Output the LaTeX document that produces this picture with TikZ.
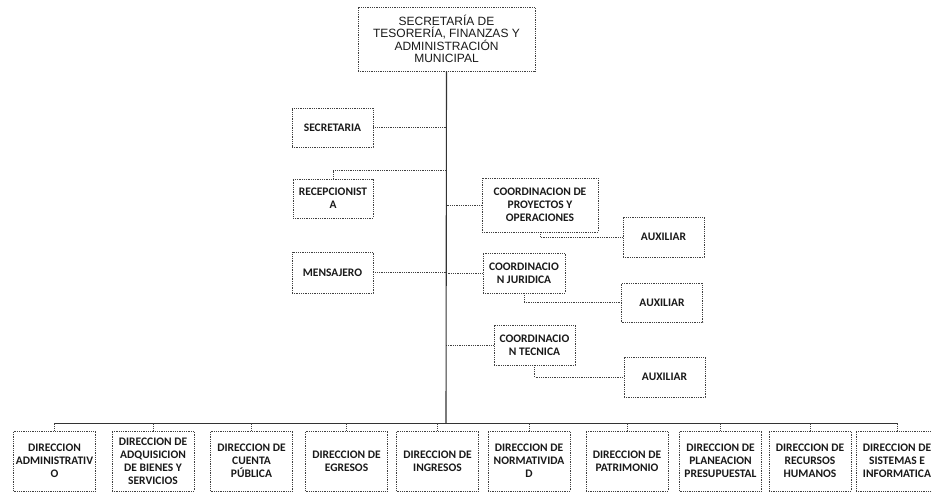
\documentclass[tikz,border=0pt]{standalone}
\usepackage{fontspec}
\setmainfont{Carlito}
\newfontfamily\arialfont{Liberation Sans}
\usepackage{tikz}

\begin{document}
\begin{tikzpicture}[x=1pt, y=-1pt]
    \useasboundingbox (0,0) rectangle (932,493);

    % --- DEFINE STYLES ---
    % Style for every box of the chart
    \tikzstyle{unit} = [draw=black!75, densely dotted, line width=0.8pt, align=center,
        inner sep=0pt, text=black!90, font=\bfseries\fontsize{11.5}{13}\selectfont]
    % Style for the head box
    \tikzstyle{head} = [unit, font=\arialfont\fontsize{12}{12.4}\selectfont,
        minimum width=177pt, minimum height=64pt]
    % Style for the direcciones along the bottom
    \tikzstyle{dir} = [unit, minimum width=82pt, minimum height=60pt]
    % Style for the connectors
    \tikzstyle{link} = [draw=black!75, densely dotted, line width=0.8pt]
    \tikzstyle{trunk} = [draw=black!80, line width=1.1pt]

    % --- HEAD AND STAFF ---
    \node[head] (top) at (446.5,39) {SECRETARÍA DE\\TESORERÍA, FINANZAS Y\\ADMINISTRACIÓN\\MUNICIPAL};

    \node[unit, minimum width=81pt, minimum height=39pt] (secre) at (332.5,127.5) {SECRETARIA};
    \node[unit, minimum width=80pt, minimum height=39pt] (recep) at (333,198.5) {RECEPCIONIST\\A};
    \node[unit, minimum width=81pt, minimum height=41pt] (mensa) at (332.5,272.5) {MENSAJERO};

    % --- COORDINACIONES WITH THEIR AUXILIARES ---
    \node[unit, minimum width=116pt, minimum height=54pt] (coordP) at (540,205) {COORDINACION DE\\PROYECTOS Y\\OPERACIONES};
    \node[unit, minimum width=82pt, minimum height=40pt] (coordJ) at (524,273) {COORDINACIO\\N JURIDICA};
    \node[unit, minimum width=81pt, minimum height=40pt] (coordT) at (534.5,345) {COORDINACIO\\N TECNICA};

    \node[unit, minimum width=81pt, minimum height=40pt] (aux1) at (663.5,237) {AUXILIAR};
    \node[unit, minimum width=81pt, minimum height=39pt] (aux2) at (662,302.5) {AUXILIAR};
    \node[unit, minimum width=81pt, minimum height=40pt] (aux3) at (664.5,377) {AUXILIAR};

    % --- DIRECCIONES ---
    \foreach \n/\cx/\txt in {
        1/54.5/{DIRECCION\\ADMINISTRATIV\\O},
        2/153/{DIRECCION DE\\ADQUISICION\\DE BIENES Y\\SERVICIOS},
        3/251.5/{DIRECCION DE\\CUENTA\\PÚBLICA},
        4/346.5/{DIRECCION DE\\EGRESOS},
        5/437.5/{DIRECCION DE\\INGRESOS},
        6/529/{DIRECCION DE\\NORMATIVIDA\\D},
        7/627/{DIRECCION DE\\PATRIMONIO},
        8/720.5/{DIRECCION DE\\PLANEACION\\PRESUPUESTAL},
        9/810/{DIRECCION DE\\RECURSOS\\HUMANOS},
        10/897/{DIRECCION DE\\SISTEMAS E\\INFORMATICA}} {
        \node[dir] (d\n) at (\cx,461) {\txt};
    }

    % --- CONNECTORS ---
    \coordinate (bus) at (446,423);
    \coordinate (rj) at (446,170);
    \path[trunk] (top.south) -- (bus);
    \path[trunk, line width=0.9pt] (d1.north |- bus) -- (d10.north |- bus);
    \foreach \n in {1,...,10} {
        \path[link] (d\n.north) -- (d\n.north |- bus);
    }

    \path[link] (secre.east) -- (secre.east -| bus);
    \path[link] (recep.north) |- (rj);
    \path[link] (mensa.east) -- (mensa.east -| bus);

    \path[link] (coordP.west) -- (coordP.west -| bus);
    \path[link] (coordJ.west) -- (coordJ.west -| bus);
    \path[link] (coordT.west) -- (coordT.west -| bus);

    \path[link] (coordP.south) |- (aux1.west);
    \path[link] (coordJ.south) |- (aux2.west);
    \path[link] (coordT.south) |- (aux3.west);
\end{tikzpicture}
\end{document}
